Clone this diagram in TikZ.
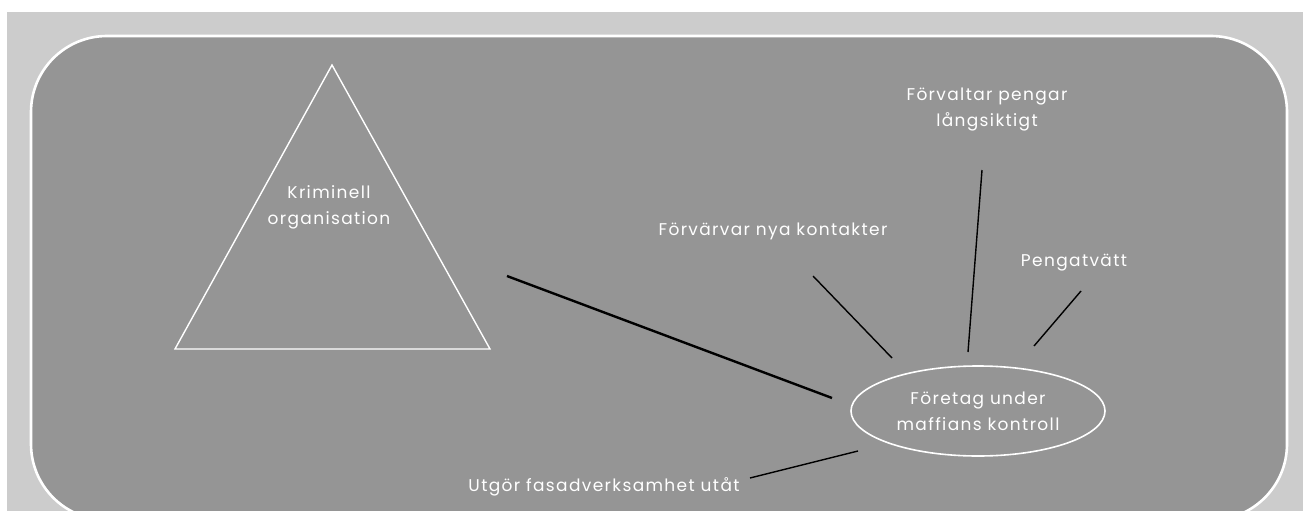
\documentclass[tikz,border=0pt]{standalone}
\usepackage{fontspec}
\setmainfont{Poppins}[LetterSpace=8]
\usetikzlibrary{shapes.geometric}
\definecolor{bgl}{HTML}{CCCCCC}
\definecolor{bgd}{HTML}{959595}
\begin{document}
\begin{tikzpicture}[x=1pt,y=-1pt,
  lbl/.style={text=white,font=\fontsize{17}{26}\selectfont,align=center,inner sep=0pt},
  spoke/.style={draw=black,line width=1.4pt},
  wline/.style={draw=white,line width=1.4pt}]
\useasboundingbox (0,0) rectangle (1303,511);
\fill[bgl] (7,12) rectangle (1303,511);
\begin{scope}
\clip (7,12) rectangle (1303,511);
\draw[white,line width=2.6pt,fill=bgd,rounded corners=76pt] (31,36) rectangle (1287,520);
\end{scope}
% triangle
\coordinate (tA) at (332,65);
\coordinate (tB) at (175,349);
\coordinate (tC) at (490,349);
\draw[wline] (tA) -- (tB) -- (tC) -- cycle;
\node[lbl] (org) at (329,207) {Kriminell\\organisation};
% ellipse
\node[ellipse,draw=white,line width=1.6pt,minimum width=254pt,minimum height=90pt,inner sep=0pt,lbl] (ftg) at (978,411) {Företag under\\maffians kontroll};
% labels
\node[lbl] (kont) at (773,231) {Förvärvar nya kontakter};
\node[lbl] (forv) at (987,110) {Förvaltar pengar\\långsiktigt};
\node[lbl] (tvatt) at (1074,263) {Pengatvätt};
\node[lbl] (fasad) at (604,487) {Utgör fasadverksamhet utåt};
% spoke end points
\coordinate (m0) at (507,276);
\coordinate (m1) at (832,398);
\coordinate (k0) at (813,276);
\coordinate (k1) at (892,358);
\coordinate (f0) at (982,170);
\coordinate (f1) at (968,352);
\coordinate (p0) at (1081,291);
\coordinate (p1) at (1034,346);
\coordinate (u0) at (858,451);
\coordinate (u1) at (750,478);
\draw[black,line width=2.4pt] (m0) -- (m1);
\draw[spoke] (k0) -- (k1);
\draw[spoke] (f0) -- (f1);
\draw[spoke] (p0) -- (p1);
\draw[spoke] (u0) -- (u1);
\end{tikzpicture}
\end{document}
